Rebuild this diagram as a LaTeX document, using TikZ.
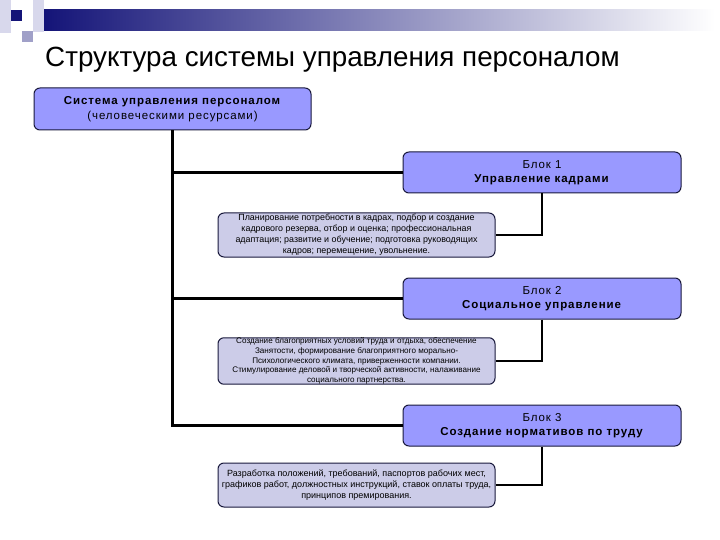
\documentclass[tikz,border=0pt]{standalone}
\usepackage{fontspec}
\setmainfont{Liberation Sans}
\newfontfamily\boxface[LetterSpace=8]{Liberation Sans}
\usetikzlibrary{positioning}

\definecolor{blockfill}{RGB}{153,153,255}
\definecolor{taskfill}{RGB}{204,204,232}
\definecolor{frameclr}{RGB}{25,25,60}
\definecolor{navybar}{RGB}{20,20,120}
\definecolor{sqlight}{RGB}{216,216,236}
\definecolor{sqmid}{RGB}{160,160,200}

\tikzset{
  blockbox/.style={draw=frameclr, line width=1pt, fill=blockfill, rounded corners=6pt,
    minimum width=278pt, minimum height=41pt, align=center, inner sep=0pt,
    font=\boxface\fontsize{11.5}{14.5}\selectfont},
  taskbox/.style={draw=frameclr, line width=1pt, fill=taskfill, rounded corners=6pt,
    minimum width=277pt, minimum height=44pt, align=center, inner sep=0pt,
    font=\fontsize{8.9}{11}\selectfont},
  link/.style={line width=2.2pt, black}
}

\begin{document}
\begin{tikzpicture}[x=1pt,y=-1pt]
\useasboundingbox (0,0) rectangle (720,540);
% header decoration
\fill[sqlight] (0,0) rectangle (11,33);
\fill[sqlight] (33,0) rectangle (44,32);
\fill[sqmid] (22,31) rectangle (33,42);
\fill[navybar] (11,10) rectangle (22,21);
\shade[left color=navybar, right color=white] (44,10) rectangle (715,31);
\node[anchor=base west, inner sep=0pt, font=\fontsize{27.8}{32}\selectfont] (title) at (45,67)
  {Структура системы управления персоналом};

% main box
\node[blockbox, minimum width=277pt, minimum height=42pt] (root) at (172.5,109)
  {\textbf{Система управления персоналом}\\(человеческими ресурсами)};

% blocks
\node[blockbox] (b1) at (542,172.5) {Блок 1\\\textbf{Управление кадрами}};
\node[blockbox, below=84pt of b1] (b2) {Блок 2\\\textbf{Социальное управление}};
\node[blockbox, below=85pt of b2] (b3) {Блок 3\\\textbf{Создание нормативов по труду}};

% tasks
\node[taskbox] (t1) at (356.5,235)
  {Планирование потребности в кадрах, подбор и создание\\
   кадрового резерва, отбор и оценка; профессиональная\\
   адаптация; развитие и обучение; подготовка руководящих\\
   кадров; перемещение, увольнение.};
\node[taskbox, minimum height=42pt, font=\fontsize{8.1}{9.7}\selectfont] (t2) at (356.5,361)
  {Создание благоприятных условий труда и отдыха, обеспечение\\
   Занятости, формирование благоприятного морально-\\
   Психологического климата, приверженности компании.\\
   Стимулирование деловой и творческой активности, налаживание\\
   социального партнерства.};
\node[taskbox, font=\fontsize{9}{11}\selectfont] (t3) at (356.5,485)
  {Разработка положений, требований, паспортов рабочих мест,\\
   графиков работ, должностных инструкций, ставок оплаты труда,\\
   принципов премирования.};

% connectors
\draw[link] (root.south) |- (b3.west);
\draw[link] (root.south) |- (b1.west);
\draw[link] (root.south) |- (b2.west);
\draw[link] (b1.south) |- (t1.east);
\draw[link] (b2.south) |- (t2.east);
\draw[link] (b3.south) |- (t3.east);
\end{tikzpicture}
\end{document}
